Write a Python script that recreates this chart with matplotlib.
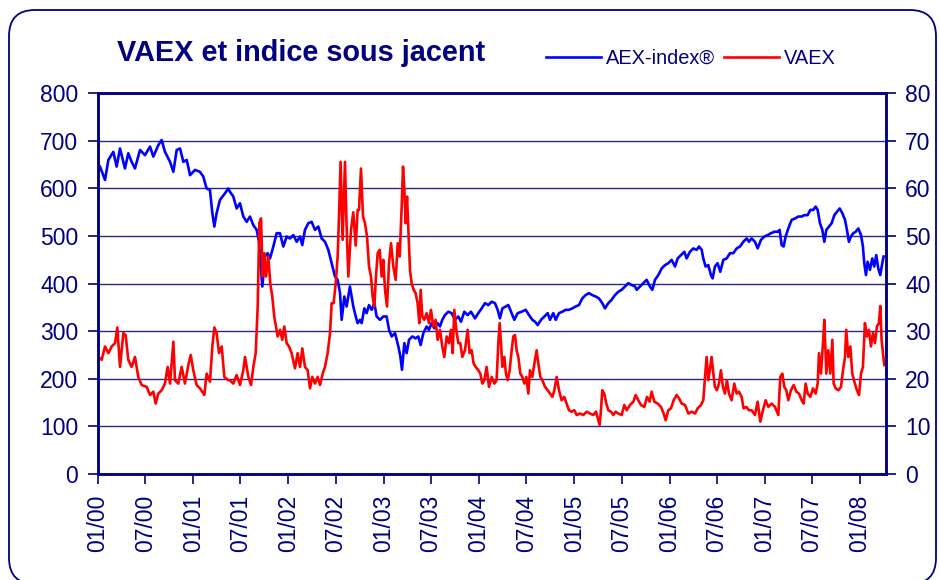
import matplotlib
matplotlib.use("Agg")
import matplotlib.pyplot as plt
import matplotlib.dates as mdates
from matplotlib.patches import FancyBboxPatch
from matplotlib.transforms import IdentityTransform
import pandas as pd
import numpy as np

plt.rcParams['font.family'] = ['Liberation Sans', 'DejaVu Sans']

# ---- data (time in years since 2000-01-01) ----
aex_t = [0.000, 0.024, 0.077, 0.112, 0.164, 0.199, 0.234, 0.286, 0.321, 0.356, 0.391, 0.444,
         0.496, 0.549, 0.584, 0.636, 0.671, 0.706, 0.759, 0.794, 0.829, 0.864, 0.899, 0.934,
         0.969, 1.021, 1.073, 1.108, 1.143, 1.178, 1.203, 1.224, 1.248, 1.283, 1.336, 1.371,
         1.388, 1.423, 1.458, 1.493, 1.528, 1.563, 1.598, 1.633, 1.668, 1.693, 1.714, 1.728,
         1.756, 1.783, 1.808, 1.843, 1.878, 1.913, 1.948, 1.983, 2.018, 2.053, 2.088, 2.123,
         2.147, 2.175, 2.210, 2.245, 2.280, 2.315, 2.350, 2.385, 2.420, 2.455, 2.490, 2.518,
         2.543, 2.560, 2.588, 2.612, 2.647, 2.682, 2.717, 2.728, 2.752, 2.770, 2.798, 2.822,
         2.847, 2.875, 2.903, 2.927, 2.962, 2.997, 3.032, 3.057, 3.085, 3.120, 3.155, 3.176,
         3.193, 3.218, 3.242, 3.267, 3.302, 3.336, 3.364, 3.389, 3.417, 3.452, 3.476, 3.504,
         3.532, 3.567, 3.592, 3.616, 3.644, 3.679, 3.714, 3.749, 3.784, 3.812, 3.847, 3.882,
         3.917, 3.959, 3.994, 4.029, 4.064, 4.099, 4.134, 4.169, 4.197, 4.221, 4.246, 4.281,
         4.309, 4.337, 4.372, 4.407, 4.449, 4.491, 4.526, 4.561, 4.589, 4.617, 4.652, 4.687,
         4.722, 4.746, 4.781, 4.806, 4.841, 4.875, 4.910, 4.945, 4.980, 5.015, 5.050, 5.085,
         5.120, 5.155, 5.190, 5.225, 5.260, 5.295, 5.323, 5.358, 5.393, 5.428, 5.463, 5.498,
         5.533, 5.568, 5.603, 5.638, 5.656, 5.691, 5.726, 5.760, 5.795, 5.820, 5.848, 5.883,
         5.918, 5.953, 5.988, 6.023, 6.058, 6.086, 6.121, 6.156, 6.180, 6.215, 6.250, 6.285,
         6.310, 6.338, 6.355, 6.379, 6.407, 6.435, 6.453, 6.477, 6.505, 6.533, 6.565, 6.600,
         6.635, 6.670, 6.705, 6.740, 6.775, 6.810, 6.834, 6.862, 6.897, 6.925, 6.960, 6.995,
         7.030, 7.065, 7.100, 7.135, 7.156, 7.177, 7.198, 7.219, 7.247, 7.282, 7.317, 7.352,
         7.387, 7.415, 7.450, 7.478, 7.509, 7.534, 7.555, 7.579, 7.604, 7.625, 7.646, 7.674,
         7.702, 7.730, 7.758, 7.786, 7.814, 7.842, 7.862, 7.883, 7.904, 7.929, 7.954, 7.982,
         8.010, 8.030, 8.044, 8.062, 8.079, 8.104, 8.128, 8.149, 8.170, 8.191, 8.212, 8.233,
         8.247]
aex_v = [650, 646, 618, 660, 677, 646, 684, 642, 674, 656, 642, 681,
         670, 688, 667, 691, 702, 677, 656, 635, 681, 684, 656, 660,
         628, 639, 635, 625, 600, 597, 548, 520, 548, 576, 590, 600,
         593, 583, 558, 569, 541, 530, 541, 523, 513, 488, 429, 394,
         457, 464, 453, 478, 506, 506, 478, 499, 495, 502, 488, 499,
         481, 513, 527, 530, 513, 520, 495, 488, 471, 443, 415, 408,
         380, 324, 373, 352, 394, 352, 324, 317, 324, 317, 348, 338,
         355, 345, 359, 331, 324, 331, 331, 303, 289, 296, 268, 247,
         219, 275, 254, 282, 289, 285, 289, 271, 296, 310, 303, 317,
         306, 317, 310, 324, 334, 341, 338, 324, 331, 320, 341, 334,
         341, 327, 338, 348, 359, 355, 362, 359, 345, 327, 348, 352,
         355, 341, 324, 338, 341, 345, 334, 324, 320, 313, 324, 331,
         338, 324, 338, 324, 338, 341, 345, 345, 348, 352, 355, 369,
         376, 380, 376, 373, 369, 359, 348, 359, 366, 376, 383, 387,
         394, 401, 397, 394, 387, 394, 401, 408, 394, 387, 408, 418,
         432, 439, 443, 450, 436, 453, 460, 467, 453, 467, 474, 471,
         478, 471, 453, 436, 439, 418, 411, 436, 443, 425, 450, 453,
         464, 464, 474, 478, 488, 495, 488, 495, 488, 474, 492, 499,
         502, 506, 509, 509, 513, 481, 478, 499, 516, 534, 537, 541,
         541, 544, 544, 555, 555, 562, 555, 527, 513, 488, 513, 520,
         527, 544, 551, 558, 548, 534, 513, 488, 499, 506, 509, 516,
         502, 478, 443, 418, 446, 429, 453, 436, 460, 432, 418, 443,
         457]

vaex_t = [0.000, 0.007, 0.042, 0.077, 0.112, 0.147, 0.182, 0.206, 0.234, 0.269, 0.293, 0.321,
          0.356, 0.391, 0.426, 0.461, 0.514, 0.549, 0.584, 0.608, 0.636, 0.671, 0.706, 0.734,
          0.759, 0.794, 0.811, 0.846, 0.881, 0.916, 0.951, 0.976, 1.003, 1.038, 1.073, 1.119,
          1.143, 1.178, 1.203, 1.224, 1.248, 1.273, 1.301, 1.329, 1.371, 1.388, 1.423, 1.458,
          1.493, 1.528, 1.546, 1.581, 1.609, 1.633, 1.658, 1.679, 1.696, 1.714, 1.731, 1.749,
          1.766, 1.790, 1.811, 1.832, 1.853, 1.871, 1.888, 1.913, 1.937, 1.958, 1.983, 2.007,
          2.035, 2.070, 2.098, 2.123, 2.147, 2.175, 2.203, 2.228, 2.252, 2.280, 2.308, 2.333,
          2.361, 2.385, 2.413, 2.438, 2.455, 2.476, 2.497, 2.518, 2.532, 2.549, 2.570, 2.595,
          2.612, 2.630, 2.658, 2.682, 2.707, 2.728, 2.742, 2.763, 2.784, 2.805, 2.826, 2.847,
          2.868, 2.885, 2.903, 2.920, 2.938, 2.959, 2.980, 2.997, 3.015, 3.036, 3.057, 3.078,
          3.102, 3.127, 3.148, 3.169, 3.190, 3.204, 3.218, 3.232, 3.246, 3.260, 3.277, 3.295,
          3.316, 3.336, 3.357, 3.375, 3.389, 3.406, 3.427, 3.452, 3.476, 3.497, 3.522, 3.546,
          3.567, 3.592, 3.616, 3.637, 3.662, 3.686, 3.707, 3.725, 3.742, 3.763, 3.784, 3.805,
          3.826, 3.854, 3.882, 3.903, 3.924, 3.945, 3.966, 3.994, 4.015, 4.036, 4.057, 4.081,
          4.106, 4.134, 4.162, 4.186, 4.204, 4.218, 4.232, 4.246, 4.267, 4.284, 4.302, 4.323,
          4.344, 4.361, 4.379, 4.396, 4.414, 4.435, 4.456, 4.477, 4.498, 4.519, 4.536, 4.561,
          4.582, 4.606, 4.624, 4.645, 4.666, 4.694, 4.722, 4.746, 4.771, 4.792, 4.816, 4.841,
          4.868, 4.896, 4.921, 4.945, 4.973, 5.001, 5.026, 5.061, 5.096, 5.131, 5.166, 5.201,
          5.229, 5.253, 5.267, 5.281, 5.295, 5.316, 5.337, 5.358, 5.386, 5.411, 5.435, 5.463,
          5.498, 5.526, 5.551, 5.586, 5.621, 5.645, 5.673, 5.701, 5.736, 5.764, 5.792, 5.813,
          5.841, 5.876, 5.911, 5.939, 5.960, 5.988, 6.016, 6.044, 6.075, 6.100, 6.128, 6.163,
          6.198, 6.233, 6.268, 6.296, 6.331, 6.355, 6.373, 6.390, 6.407, 6.428, 6.442, 6.460,
          6.477, 6.498, 6.519, 6.540, 6.561, 6.582, 6.603, 6.624, 6.652, 6.680, 6.705, 6.729,
          6.757, 6.778, 6.806, 6.834, 6.862, 6.897, 6.925, 6.953, 6.981, 7.009, 7.037, 7.072,
          7.107, 7.142, 7.163, 7.184, 7.205, 7.226, 7.247, 7.275, 7.303, 7.331, 7.359, 7.387,
          7.408, 7.429, 7.450, 7.478, 7.506, 7.534, 7.555, 7.569, 7.590, 7.611, 7.625, 7.646,
          7.667, 7.688, 7.709, 7.723, 7.744, 7.772, 7.800, 7.821, 7.842, 7.855, 7.877, 7.898,
          7.918, 7.946, 7.967, 7.989, 8.010, 8.030, 8.051, 8.072, 8.093, 8.114, 8.135, 8.156,
          8.177, 8.198, 8.212, 8.226, 8.240, 8.254]
vaex_v = [28.9, 24.6, 24.0, 26.8, 25.4, 26.8, 27.5, 30.8, 22.5, 29.6, 29.2, 24.0,
          22.5, 24.6, 20.4, 18.7, 18.3, 16.6, 17.3, 14.8, 16.9, 17.6, 19.0, 22.5,
          19.0, 27.8, 19.7, 19.0, 22.5, 19.0, 22.9, 25.0, 21.8, 18.7, 18.0, 16.6,
          21.1, 19.4, 26.8, 30.8, 29.6, 25.4, 26.8, 20.4, 19.7, 19.7, 19.0, 20.8,
          18.7, 21.8, 24.6, 20.4, 18.7, 22.5, 25.4, 35.2, 52.7, 53.7, 41.5, 46.4,
          41.5, 45.7, 40.0, 37.3, 33.0, 31.0, 28.9, 30.3, 28.2, 31.0, 27.5, 26.8,
          25.4, 22.2, 25.4, 22.5, 26.4, 22.5, 21.8, 18.0, 20.4, 19.0, 20.4, 18.7,
          21.1, 22.5, 25.4, 29.6, 35.9, 35.9, 40.0, 45.7, 54.1, 65.6, 49.2, 65.6,
          52.0, 41.5, 51.3, 55.0, 48.0, 55.5, 55.5, 64.2, 54.1, 52.7, 49.9, 43.6,
          41.5, 37.3, 35.2, 41.5, 46.4, 47.1, 41.5, 45.0, 38.7, 35.2, 44.3, 48.5,
          43.6, 40.8, 48.5, 45.7, 56.2, 64.6, 59.7, 52.7, 58.3, 51.3, 42.9, 40.0,
          38.7, 38.0, 35.9, 31.7, 38.7, 33.1, 32.4, 33.8, 31.7, 34.5, 31.0, 32.4,
          28.2, 30.3, 26.8, 24.6, 28.9, 27.5, 30.3, 25.4, 34.5, 30.3, 27.5, 27.5,
          24.6, 26.0, 30.3, 25.4, 26.0, 23.2, 22.5, 21.8, 21.1, 19.0, 19.7, 22.5,
          18.3, 20.4, 19.0, 19.7, 27.5, 31.7, 27.5, 22.5, 24.6, 21.1, 19.7, 21.8,
          26.0, 28.9, 29.2, 26.0, 24.6, 21.1, 20.4, 19.0, 20.4, 16.9, 21.8, 20.4,
          23.2, 26.0, 23.2, 20.4, 19.7, 18.3, 17.6, 16.9, 16.2, 17.6, 20.4, 17.6,
          15.5, 16.2, 14.8, 13.4, 13.1, 13.4, 12.4, 12.7, 12.4, 13.1, 12.7, 12.4,
          13.1, 11.3, 10.3, 13.4, 17.6, 16.9, 14.8, 13.4, 13.1, 12.4, 13.1, 12.7,
          12.4, 14.5, 13.4, 14.5, 15.2, 16.6, 15.5, 14.5, 14.1, 16.2, 15.2, 17.3,
          15.2, 14.8, 14.1, 12.7, 11.3, 13.4, 13.8, 15.5, 16.6, 15.9, 14.8, 14.5,
          12.7, 13.1, 12.7, 13.8, 14.5, 15.5, 20.4, 24.6, 19.7, 22.5, 24.6, 21.1,
          18.3, 17.6, 19.0, 21.8, 18.3, 16.9, 19.7, 16.9, 15.5, 19.0, 16.9, 17.3,
          16.2, 13.8, 14.1, 13.4, 13.4, 12.4, 15.2, 11.0, 13.4, 15.5, 14.1, 14.8,
          14.1, 12.4, 20.4, 21.1, 18.3, 17.6, 15.5, 17.6, 18.7, 17.3, 16.9, 15.5,
          14.8, 19.0, 16.9, 16.2, 18.0, 16.9, 19.0, 25.4, 21.1, 27.5, 32.4, 21.1,
          26.0, 21.1, 28.2, 19.0, 18.0, 17.6, 18.3, 21.8, 24.6, 30.3, 24.6, 26.8,
          21.1, 19.0, 17.6, 16.6, 21.1, 22.5, 31.7, 28.9, 30.3, 26.8, 29.6, 27.5,
          31.0, 31.7, 35.3, 28.2, 25.4, 22.9]

x_end = 8.269
left_ticks = [0, 100, 200, 300, 400, 500, 600, 700, 800]
right_ticks = [0, 10, 20, 30, 40, 50, 60, 70, 80]

title = "VAEX et indice sous jacent"
aex_label = "AEX-index®"
vaex_label = "VAEX"

# ---- helpers ----
base = pd.Timestamp("2000-01-01")
def to_dates(ts):
    return [base + pd.Timedelta(days=float(t) * 365.25) for t in ts]

navy = "#000080"
grid_c = "#28288f"

W, H = 940, 580
fig = plt.figure(figsize=(W / 100, H / 100), dpi=100)
fig.patch.set_facecolor("white")

ax = fig.add_axes([97.7 / W, 1 - 474 / H, (885.7 - 97.7) / W, (474 - 93.3) / H])
ax2 = ax.twinx()

l1, = ax.plot(to_dates(aex_t), aex_v, color="#0000ff", lw=1.9, label=aex_label)
l2, = ax2.plot(to_dates(vaex_t), vaex_v, color="#ff0000", lw=1.9, label=vaex_label)

ax.set_xlim(base, base + pd.Timedelta(days=x_end * 365.25))
ax.set_ylim(0, 800)
ax2.set_ylim(0, 80)
ax.set_yticks(left_ticks)
ax2.set_yticks(right_ticks)

ax.xaxis.set_major_locator(mdates.MonthLocator(bymonth=[1, 7]))
ax.xaxis.set_major_formatter(mdates.DateFormatter("%m/%y"))
for lab in ax.get_xticklabels():
    lab.set_rotation(90)

ax.grid(axis="y", color=grid_c, lw=1.0)
ax.grid(axis="x", visible=False)
ax.set_axisbelow(True)

for a in (ax, ax2):
    for s in a.spines.values():
        s.set_color(navy)
        s.set_linewidth(1.8)
    a.tick_params(colors=navy, labelcolor=navy, labelsize=16.5, length=7, width=1.2,
                  direction="out")
ax.tick_params(axis="x", pad=8)
ax.tick_params(axis="y", pad=7)
ax2.tick_params(axis="y", pad=7)

fig.text(117 / W, 1 - 53 / H, title, fontsize=20.8, fontweight="bold", color=navy,
         ha="left", va="center")

fig.legend(handles=[l1, l2], loc="center left", bbox_to_anchor=(546 / W, 1 - 58 / H),
           ncol=2, frameon=False, fontsize=14.4, handlelength=2.75, handletextpad=0.25,
           columnspacing=0.45, labelcolor=navy, borderpad=0, borderaxespad=0)

border = FancyBboxPatch((9, -4), 927, 574, boxstyle="round,pad=0,rounding_size=26",
                        transform=IdentityTransform(), fill=False, edgecolor=navy, lw=1.3)
fig.add_artist(border)

fig.savefig("out.png", dpi=100, facecolor="white")
